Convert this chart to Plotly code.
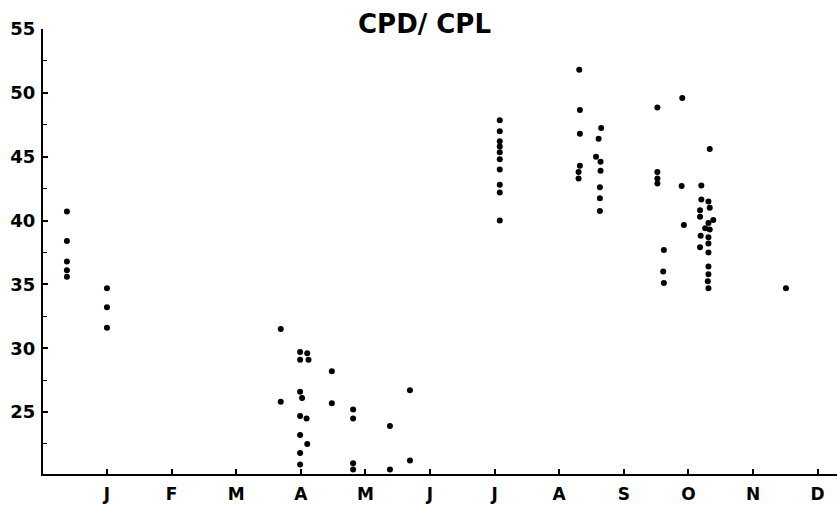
import plotly.graph_objects as go

# Sampling position (month number, J=1 ... D=12) and CPD/CPL ratio
month_pos = [
    0.38, 0.38, 0.38, 0.38, 0.38,
    1.0, 1.0, 1.0,
    3.69, 3.69,
    3.99, 3.99, 3.99, 3.99, 3.99, 3.99, 3.99, 4.02,
    4.10, 4.12, 4.09, 4.10,
    4.48, 4.48,
    4.81, 4.81, 4.81, 4.81,
    5.38, 5.38,
    5.69, 5.69,
    7.08, 7.08, 7.08, 7.08, 7.08, 7.08, 7.08, 7.08, 7.08, 7.08,
    8.31, 8.32, 8.32, 8.32, 8.30, 8.30,
    8.65, 8.61, 8.57, 8.64, 8.64, 8.63, 8.63, 8.63,
    9.52, 9.52, 9.52, 9.52,
    9.62, 9.61, 9.62,
    9.905, 9.895, 9.93,
    10.20, 10.20, 10.18, 10.18, 10.19, 10.18, 10.26,
    10.31, 10.33, 10.385, 10.31, 10.33, 10.31, 10.31, 10.31, 10.31, 10.31,
    10.30, 10.31, 10.33,
    11.51,
]
cpd_cpl = [
    40.7, 38.4, 36.8, 36.1, 35.6,
    34.7, 33.2, 31.6,
    31.5, 25.8,
    29.7, 29.1, 26.6, 24.7, 23.2, 21.8, 20.9, 26.1,
    29.6, 29.1, 24.5, 22.5,
    28.2, 25.7,
    25.2, 24.5, 21.0, 20.5,
    23.9, 20.5,
    26.7, 21.2,
    47.85, 47.0, 46.2, 45.8, 45.35, 44.8, 44.0, 42.8, 42.2, 40.0,
    51.8, 48.65, 46.8, 44.3, 43.8, 43.3,
    47.25, 46.4, 45.0, 44.6, 43.9, 42.6, 41.75, 40.75,
    48.85, 43.8, 43.3, 42.9,
    37.7, 36.0, 35.1,
    49.6, 42.7, 39.65,
    42.75, 41.65, 40.8, 40.3, 38.8, 37.9, 39.4,
    41.5, 41.0, 40.05, 39.8, 39.3, 38.7, 38.2, 37.5, 36.4, 35.8,
    35.25, 34.7, 45.6,
    34.7,
]

month_ticks = [1, 2, 3, 4, 5, 6, 7, 8, 9, 10, 11, 12]
month_labels = ["J", "F", "M", "A", "M", "J", "J", "A", "S", "O", "N", "D"]
y_ticks = [25, 30, 35, 40, 45, 50, 55]
y_minor_ticks = [22.5, 27.5, 32.5, 37.5, 42.5, 47.5, 52.5]
title_text = "CPD/ CPL"

fig = go.Figure()
fig.add_trace(go.Scatter(
    x=month_pos, y=cpd_cpl, mode="markers",
    marker=dict(color="black", size=6, line=dict(width=0)),
    showlegend=False, cliponaxis=False,
))

font_family = "DejaVu Sans, Liberation Sans, sans-serif"

fig.update_layout(
    width=837, height=505,
    margin=dict(l=43, r=0, t=29, b=31),
    paper_bgcolor="white", plot_bgcolor="white",
    font=dict(family=font_family, color="black"),
    xaxis=dict(
        range=[0.01, 12.30], tickvals=month_ticks, ticktext=month_labels,
        showgrid=False, zeroline=False,
        showline=True, linecolor="black", linewidth=2,
        ticks="inside", ticklen=5, tickwidth=1.5, tickcolor="black",
        tickfont=dict(size=17, family=font_family, weight="bold"),
        ticklabelstandoff=4,
    ),
    yaxis=dict(
        range=[20.15, 55], tickvals=y_ticks,
        showgrid=False, zeroline=False,
        showline=True, linecolor="black", linewidth=2,
        ticks="inside", ticklen=5, tickwidth=1.5, tickcolor="black",
        tickfont=dict(size=18, family=font_family, weight="bold"),
        minor=dict(tickvals=y_minor_ticks,
                   ticks="inside", ticklen=4, tickwidth=1, tickcolor="black"),
        ticklabelstandoff=2,
    ),
    annotations=[dict(
        text=title_text, xref="paper", yref="paper", x=0.481, y=1.011,
        xanchor="center", yanchor="middle", showarrow=False,
        font=dict(size=26, family=font_family, color="black", weight="bold"),
    )],
)

fig.write_html("out.html")
